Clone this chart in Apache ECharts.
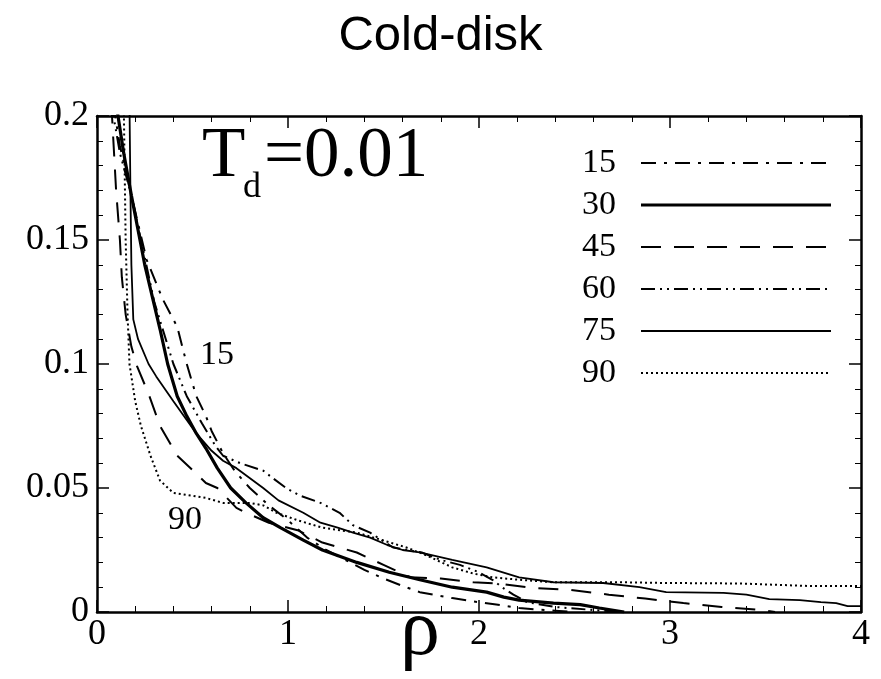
<!DOCTYPE html>
<html>
<head>
<meta charset="utf-8">
<script src="https://cdn.jsdelivr.net/npm/echarts@6/dist/echarts.min.js"></script>
<style>
html,body{margin:0;padding:0;background:#fff;}
#chart{width:881px;height:679px;}
</style>
</head>
<body>
<div id="chart"></div>
<script>
// ---- data ----
var seriesNames = ['15', '30', '45', '60', '75', '90'];
var xTicks = [0, 1, 2, 3, 4];
var yTicks = [0, 0.05, 0.1, 0.15, 0.2];

var rho15 = [0.085,0.12,0.18,0.26,0.345,0.42,0.47,0.52,0.57,0.60,0.66,0.72,0.80,0.90,1.0,1.1,1.2,1.3,1.4,1.5,1.6,1.69,1.86,1.95,2.09,2.21,2.30,2.42,2.5];
var f15   = [0.205,0.188,0.168,0.142,0.126,0.115,0.100,0.087,0.079,0.073,0.064,0.057,0.050,0.043,0.037,0.030,0.025,0.021,0.017,0.0135,0.0105,0.008,0.0056,0.0045,0.003,0.0016,0.001,0.0004,0];

var rho30 = [0.10,0.14,0.18,0.25,0.33,0.37,0.42,0.47,0.52,0.57,0.63,0.70,0.78,0.87,0.96,1.08,1.18,1.36,1.53,1.69,1.86,2.04,2.13,2.21,2.39,2.53,2.63,2.76];
var f30   = [0.205,0.185,0.168,0.140,0.114,0.100,0.087,0.079,0.072,0.066,0.058,0.050,0.044,0.038,0.034,0.029,0.025,0.020,0.016,0.013,0.010,0.008,0.006,0.0048,0.0036,0.003,0.0016,0];

var rho45 = [0.075,0.10,0.12,0.13,0.15,0.18,0.21,0.27,0.33,0.42,0.49,0.57,0.63,0.73,0.78,0.90,1.05,1.18,1.36,1.50,1.64,1.80,1.97,2.10,2.28,2.48,2.68,2.87,3.07,3.27,3.48,3.55];
var f45   = [0.205,0.170,0.150,0.135,0.120,0.107,0.099,0.088,0.075,0.063,0.058,0.052,0.050,0.042,0.040,0.036,0.033,0.028,0.024,0.019,0.014,0.0135,0.012,0.0115,0.0097,0.0089,0.007,0.0054,0.0036,0.002,0.0008,0];

var rho60 = [0.075,0.12,0.18,0.30,0.40,0.47,0.55,0.62,0.66,0.75,0.87,0.92,0.99,1.06,1.17,1.27,1.34,1.43,1.55,1.62,1.70,1.80,1.90,2.00,2.07,2.12,2.18,2.25,2.40,2.60,2.75];
var f60   = [0.205,0.185,0.168,0.125,0.100,0.087,0.076,0.067,0.063,0.060,0.057,0.054,0.050,0.047,0.044,0.040,0.035,0.032,0.026,0.025,0.024,0.021,0.019,0.016,0.013,0.010,0.007,0.004,0.002,0.0008,0];

var rho75 = [0.17,0.175,0.18,0.19,0.215,0.27,0.31,0.40,0.52,0.60,0.66,0.73,0.87,0.95,1.08,1.17,1.26,1.34,1.43,1.52,1.60,1.69,1.86,2.04,2.21,2.39,2.65,2.84,2.98,3.28,3.40,3.52,3.68,3.79,3.87,3.93,4.0];
var f75   = [0.205,0.17,0.14,0.118,0.110,0.100,0.095,0.085,0.072,0.065,0.061,0.058,0.050,0.045,0.040,0.036,0.034,0.032,0.030,0.027,0.025,0.024,0.021,0.018,0.014,0.012,0.0117,0.010,0.008,0.0077,0.007,0.0052,0.0048,0.004,0.0036,0.0024,0.0024];

var rho90 = [0.14,0.15,0.16,0.17,0.20,0.23,0.28,0.33,0.40,0.49,0.57,0.66,0.80,0.87,0.94,1.05,1.18,1.36,1.45,1.62,1.72,1.86,1.97,2.07,2.21,2.39,2.74,2.98,3.37,3.72,4.0];
var f90   = [0.205,0.15,0.12,0.100,0.085,0.075,0.063,0.053,0.048,0.047,0.046,0.044,0.044,0.043,0.040,0.037,0.034,0.032,0.030,0.026,0.023,0.018,0.0155,0.014,0.013,0.012,0.012,0.0117,0.0115,0.0105,0.0105];

// ---- build ----
function zip(xs, ys){ return xs.map(function(x,i){ return [x, ys[i]]; }); }
var allX = [rho15, rho30, rho45, rho60, rho75, rho90];
var allY = [f15, f30, f45, f60, f75, f90];
var styles = [
  {width: 2,   type: [15, 8, 3, 8]},
  {width: 3.2, type: 'solid'},
  {width: 2,   type: [20, 13]},
  {width: 2,   type: [14, 5, 2, 5, 2, 5]},
  {width: 1.8, type: 'solid'},
  {width: 2,   type: [2, 3]}
];

var serif = '"Liberation Serif", "Times New Roman", serif';

var series = seriesNames.map(function(n, i){
  return {
    name: n, type: 'line', xAxisIndex: 0, yAxisIndex: 0,
    data: zip(allX[i], allY[i]),
    symbol: 'none', showSymbol: false, smooth: false, clip: true,
    lineStyle: {color: '#000', width: styles[i].width, type: styles[i].type},
    itemStyle: {color: '#000'},
    animation: false
  };
});

function axisCommon(showLabel){
  return {
    axisLine: {show: true, onZero: false, lineStyle: {color: '#000', width: 2.5}},
    axisTick: {show: true, inside: true, length: 12, lineStyle: {color: '#000', width: 1.5}},
    minorTick: {show: true, splitNumber: 5, length: 6, lineStyle: {color: '#000', width: 1}},
    splitLine: {show: false},
    minorSplitLine: {show: false},
    axisLabel: {show: showLabel, color: '#000', fontFamily: serif, fontSize: 36}
  };
}

var xBottom = Object.assign(axisCommon(true), {
  type: 'value', position: 'bottom', min: xTicks[0], max: xTicks[xTicks.length-1], interval: 1,
  name: 'ρ', nameLocation: 'middle', nameGap: 11, nameMoveOverlap: false,
  nameTextStyle: {fontFamily: serif, fontSize: 80, color: '#000', lineHeight: 20, padding: [0, 118, 0, 0]}
});
xBottom.axisLabel.margin = 5;
var xTop = Object.assign(axisCommon(false), {
  type: 'value', position: 'top', min: xTicks[0], max: xTicks[xTicks.length-1], interval: 1
});
var yLeft = Object.assign(axisCommon(true), {
  type: 'value', position: 'left', min: yTicks[0], max: yTicks[yTicks.length-1], interval: 0.05
});
yLeft.axisLabel.margin = 8;
var yRight = Object.assign(axisCommon(false), {
  type: 'value', position: 'right', min: yTicks[0], max: yTicks[yTicks.length-1], interval: 0.05
});

var legendData = seriesNames.map(function(n, i){
  return {name: n, lineStyle: {width: i === 1 ? 3.2 : 2, type: styles[i].type, color: '#000'}};
});

var option = {
  backgroundColor: '#fff',
  animation: false,
  title: {
    text: 'Cold-disk', left: 'center', top: 7,
    textStyle: {fontFamily: '"Liberation Sans", Arial, sans-serif', fontSize: 49, fontWeight: 'normal', color: '#000'}
  },
  grid: {left: 97, right: 20, top: 116, bottom: 67, containLabel: false, outerBoundsMode: 'none'},
  xAxis: [xBottom, xTop],
  yAxis: [yLeft, yRight],
  legend: {
    orient: 'vertical', left: 582, top: 142, align: 'right', padding: 0,
    itemWidth: 190, itemHeight: 12, itemGap: 0,
    selectedMode: false,
    data: legendData,
    itemStyle: {opacity: 0},
    textStyle: {fontFamily: serif, fontSize: 34, color: '#000', lineHeight: 34, padding: [0, 20, 8, 0]}
  },
  graphic: [
    {type: 'text', x: 202, y: 157, style: {text: 'T', font: '71px ' + serif, fill: '#000', verticalAlign: 'middle', align: 'left'}},
    {type: 'text', x: 243, y: 188, style: {text: 'd', font: '36px ' + serif, fill: '#000', verticalAlign: 'middle', align: 'left'}},
    {type: 'text', x: 264, y: 157, style: {text: '=0.01', font: '71px ' + serif, fill: '#000', verticalAlign: 'middle', align: 'left'}},
    {type: 'text', x: 217, y: 355, style: {text: '15', font: '34px ' + serif, fill: '#000', verticalAlign: 'middle', align: 'center'}},
    {type: 'text', x: 185, y: 520, style: {text: '90', font: '34px ' + serif, fill: '#000', verticalAlign: 'middle', align: 'center'}}
  ],
  series: series
};

var chart = echarts.init(document.getElementById('chart'), null, {renderer: 'canvas'});
chart.setOption(option);
</script>
</body>
</html>
